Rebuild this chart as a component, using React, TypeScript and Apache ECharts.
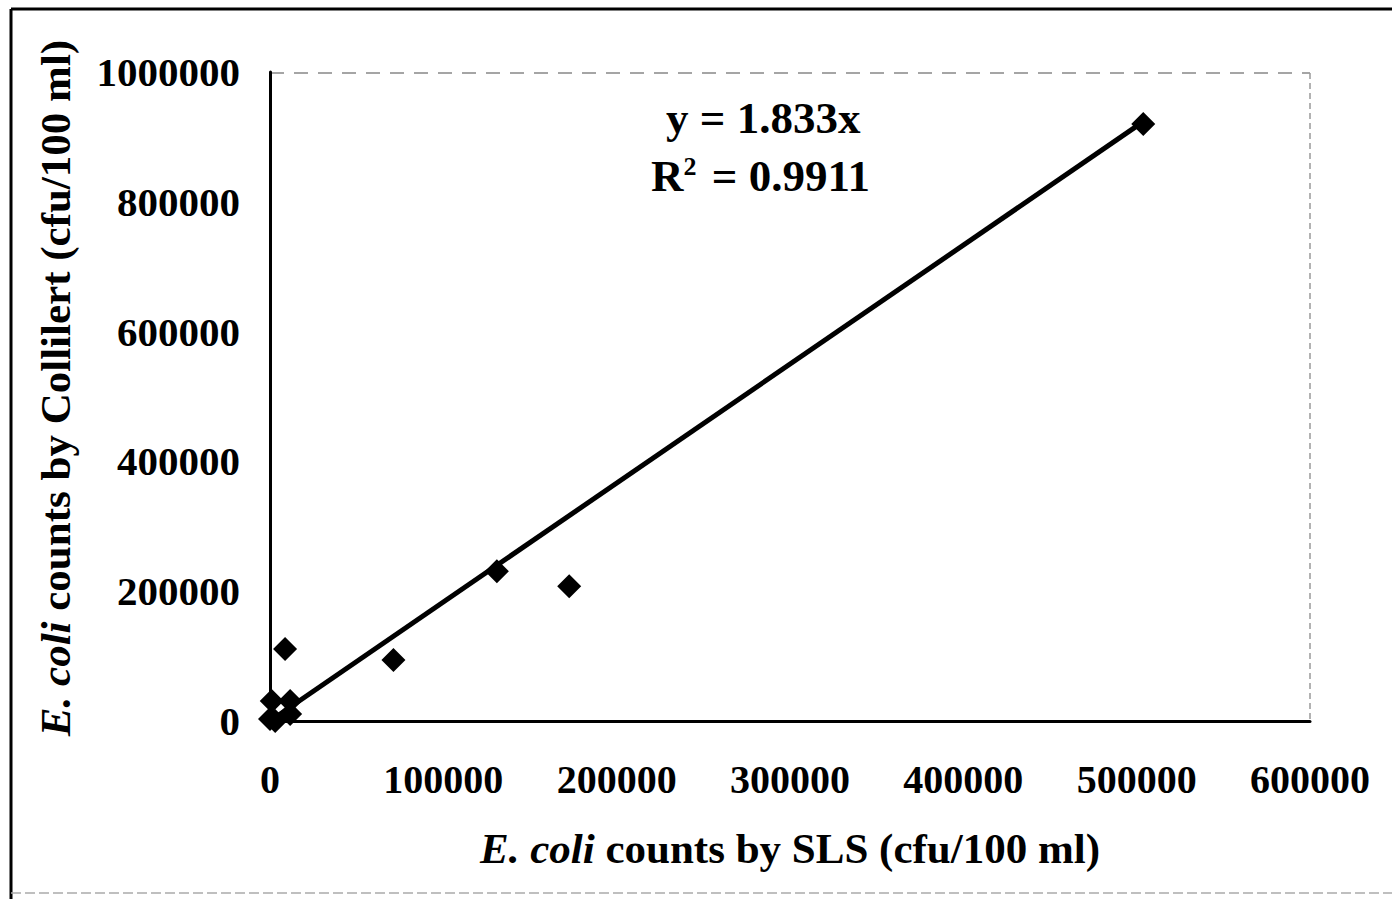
import React, { useEffect, useRef } from "react";
import * as echarts from "echarts";

const slsCounts = [0, 1000, 3000, 11600, 11600, 8700, 71200, 130900, 172600, 503800];
const collilertCounts = [3000, 30800, 0, 30800, 10800, 110800, 93800, 230800, 207700, 920000];
const trendSlope = 1.833;
const trendXRange = [0, 503800];
const equationText = "y = 1.833x";
const r2Text = "R{s|2} = 0.9911";
const xAxisTitle = "{i|E. coli} counts by SLS (cfu/100 ml)";
const yAxisTitle = "{i|E. coli} counts by Collilert (cfu/100 ml)";
const xTickMax = 600000;
const yTickMax = 1000000;

const FONT = "'Liberation Serif', 'Times New Roman', serif";

export default function App() {
  const ref = useRef<HTMLDivElement>(null);
  useEffect(() => {
    if (!ref.current) return;
    const chart = echarts.init(ref.current, null, { renderer: "svg" });
    const points = slsCounts.map((x, i) => [x, collilertCounts[i]]);
    const trend = trendXRange.map((x) => [x, x * trendSlope]);
    const richItalic = {
      i: { fontFamily: FONT, fontWeight: "bold", fontStyle: "italic", fontSize: 43, fill: "#000", color: "#000" },
    };
    chart.setOption({
      animation: false,
      backgroundColor: "#ffffff",
      grid: { left: 270, right: 82, top: 72, bottom: 178, show: false },
      xAxis: {
        type: "value",
        min: 0,
        max: xTickMax,
        interval: 100000,
        axisLine: { show: true, onZero: false, lineStyle: { color: "#000", width: 3 } },
        axisTick: { show: false },
        splitLine: { show: false },
        axisLabel: {
          color: "#000",
          fontFamily: FONT,
          fontWeight: "bold",
          fontSize: 40,
          margin: 38,
          formatter: (v: number) => String(v),
        },
        name: xAxisTitle,
        nameLocation: "middle",
        nameGap: 106,
        nameTextStyle: {
          color: "#000",
          fontFamily: FONT,
          fontWeight: "bold",
          fontSize: 43,
          rich: richItalic,
        },
      },
      yAxis: {
        type: "value",
        min: 0,
        max: yTickMax,
        interval: 200000,
        axisLine: { show: true, onZero: false, lineStyle: { color: "#000", width: 3 } },
        axisTick: { show: false },
        splitLine: { show: false },
        axisLabel: {
          color: "#000",
          fontFamily: FONT,
          fontWeight: "bold",
          fontSize: 41,
          margin: 30,
          formatter: (v: number) => String(v),
        },
      },
      graphic: [
        {
          type: "line",
          shape: { x1: 11, y1: 9, x2: 1392, y2: 9 },
          style: { stroke: "#000", lineWidth: 3 },
          silent: true,
        },
        {
          type: "line",
          shape: { x1: 11, y1: 9, x2: 11, y2: 899 },
          style: { stroke: "#000", lineWidth: 3 },
          silent: true,
        },
        {
          type: "line",
          shape: { x1: 11, y1: 893, x2: 1392, y2: 893 },
          style: { stroke: "#aaa", lineWidth: 1.5, lineDash: [10, 4] },
          silent: true,
        },
        {
          type: "line",
          shape: { x1: 270, y1: 73, x2: 1310, y2: 73 },
          style: { stroke: "#888", lineWidth: 1.5, lineDash: [14, 10] },
          silent: true,
        },
        {
          type: "line",
          shape: { x1: 1310, y1: 73, x2: 1310, y2: 721 },
          style: { stroke: "#999", lineWidth: 1.5, lineDash: [6, 4] },
          silent: true,
        },
        {
          type: "text",
          x: 55,
          y: 388,
          rotation: Math.PI / 2,
          style: {
            text: yAxisTitle,
            fill: "#000",
            font: `bold 43px ${FONT}`,
            align: "center",
            verticalAlign: "middle",
            rich: richItalic,
          },
          z: 10,
        },
        {
          type: "text",
          left: 666,
          top: 95,
          style: { text: equationText, fill: "#000", font: `bold 45px ${FONT}` },
          z: 10,
        },
        {
          type: "text",
          left: 651,
          top: 153,
          style: {
            text: r2Text,
            fill: "#000",
            font: `bold 45px ${FONT}`,
            rich: {
              s: { fontFamily: FONT, fontWeight: "bold", fontSize: 26, padding: [0, 4, 18, 0], fill: "#000" },
            },
          },
          z: 10,
        },
      ],
      series: [
        {
          type: "line",
          data: trend,
          showSymbol: false,
          symbol: "none",
          lineStyle: { color: "#000", width: 5 },
          z: 2,
        },
        {
          type: "scatter",
          data: points,
          symbol: "diamond",
          symbolSize: 24,
          itemStyle: { color: "#000", opacity: 1 },
          z: 3,
        },
      ],
    });
    return () => chart.dispose();
  }, []);
  return <div ref={ref} style={{ position: "fixed", left: 0, top: 0, width: 1392, height: 899 }} />;
}
